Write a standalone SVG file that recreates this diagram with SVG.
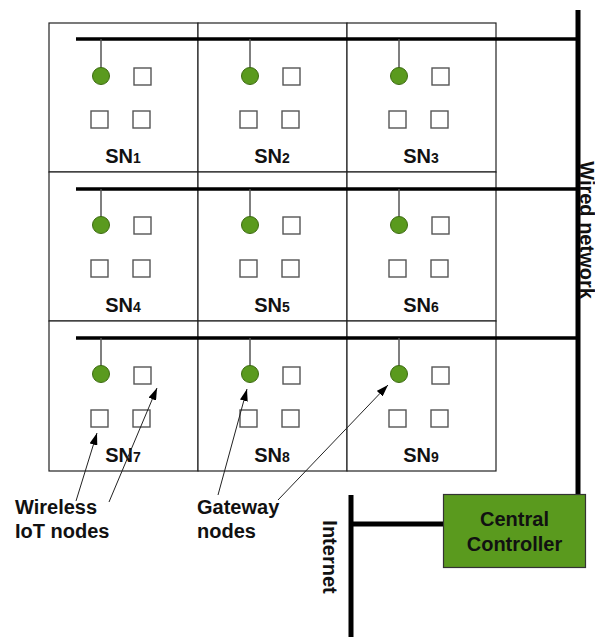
<svg xmlns="http://www.w3.org/2000/svg" width="595" height="637" viewBox="0 0 595 637">
<style>
.cell{fill:#fff;stroke:#222;stroke-width:1.2}
.sq{fill:#fff;stroke:#555;stroke-width:1.4}
.gw{fill:#5a9a1e;stroke:#3d6b12;stroke-width:1}
.stem{stroke:#555;stroke-width:1.5}
.bus{stroke:#000;stroke-width:3.5;fill:none}
.thick{stroke:#000;stroke-width:5;fill:none}
.lbl{font-family:"Liberation Sans",Arial,sans-serif;font-weight:bold;font-size:20px;fill:#111;text-anchor:middle}
.sub{font-size:14px}
.txt{font-family:"Liberation Sans",Arial,sans-serif;font-weight:bold;font-size:20px;fill:#111}
.arr{stroke:#222;stroke-width:1;fill:none;marker-end:url(#ah)}
</style>
<defs>
<marker id="ah" viewBox="0 0 12 8" refX="12" refY="4" markerWidth="12" markerHeight="8" markerUnits="userSpaceOnUse" orient="auto">
<path d="M0,0 L12,4 L0,8 Z" fill="#000"/>
</marker>
</defs>

<g id="SN1"><rect class="cell" x="49" y="23" width="149" height="149"/><rect class="sq" x="134" y="68" width="17" height="17"/><rect class="sq" x="91" y="111" width="17" height="17"/><rect class="sq" x="133" y="111" width="17" height="17"/><text class="lbl" x="123" y="163">SN<tspan class="sub">1</tspan></text></g>
<g id="SN2"><rect class="cell" x="198" y="23" width="149" height="149"/><rect class="sq" x="283" y="68" width="17" height="17"/><rect class="sq" x="240" y="111" width="17" height="17"/><rect class="sq" x="282" y="111" width="17" height="17"/><text class="lbl" x="272" y="163">SN<tspan class="sub">2</tspan></text></g>
<g id="SN3"><rect class="cell" x="347" y="23" width="149" height="149"/><rect class="sq" x="432" y="68" width="17" height="17"/><rect class="sq" x="389" y="111" width="17" height="17"/><rect class="sq" x="431" y="111" width="17" height="17"/><text class="lbl" x="421" y="163">SN<tspan class="sub">3</tspan></text></g>
<g id="SN4"><rect class="cell" x="49" y="172" width="149" height="149"/><rect class="sq" x="134" y="217" width="17" height="17"/><rect class="sq" x="91" y="260" width="17" height="17"/><rect class="sq" x="133" y="260" width="17" height="17"/><text class="lbl" x="123" y="312">SN<tspan class="sub">4</tspan></text></g>
<g id="SN5"><rect class="cell" x="198" y="172" width="149" height="149"/><rect class="sq" x="283" y="217" width="17" height="17"/><rect class="sq" x="240" y="260" width="17" height="17"/><rect class="sq" x="282" y="260" width="17" height="17"/><text class="lbl" x="272" y="312">SN<tspan class="sub">5</tspan></text></g>
<g id="SN6"><rect class="cell" x="347" y="172" width="149" height="149"/><rect class="sq" x="432" y="217" width="17" height="17"/><rect class="sq" x="389" y="260" width="17" height="17"/><rect class="sq" x="431" y="260" width="17" height="17"/><text class="lbl" x="421" y="312">SN<tspan class="sub">6</tspan></text></g>
<g id="SN7"><rect class="cell" x="49" y="321" width="149" height="150"/><rect class="sq" x="134" y="367" width="17" height="17"/><rect class="sq" x="91" y="410" width="17" height="17"/><rect class="sq" x="133" y="410" width="17" height="17"/><text class="lbl" x="123" y="462">SN<tspan class="sub">7</tspan></text></g>
<g id="SN8"><rect class="cell" x="198" y="321" width="149" height="150"/><rect class="sq" x="283" y="367" width="17" height="17"/><rect class="sq" x="240" y="410" width="17" height="17"/><rect class="sq" x="282" y="410" width="17" height="17"/><text class="lbl" x="272" y="462">SN<tspan class="sub">8</tspan></text></g>
<g id="SN9"><rect class="cell" x="347" y="321" width="149" height="150"/><rect class="sq" x="432" y="367" width="17" height="17"/><rect class="sq" x="389" y="410" width="17" height="17"/><rect class="sq" x="431" y="410" width="17" height="17"/><text class="lbl" x="421" y="462">SN<tspan class="sub">9</tspan></text></g>

<g id="connectors">
<line class="bus" x1="76" y1="39" x2="578" y2="39"/>
<line class="bus" x1="76" y1="189" x2="578" y2="189"/>
<line class="bus" x1="76" y1="338" x2="578" y2="338"/>
<line class="thick" x1="578" y1="10" x2="578" y2="495"/>
<line class="thick" x1="351" y1="495" x2="351" y2="637"/>
<line class="thick" x1="351" y1="524" x2="444" y2="524"/>
<line class="stem" x1="101" y1="39" x2="101" y2="68"/>
<line class="stem" x1="250" y1="39" x2="250" y2="68"/>
<line class="stem" x1="399" y1="39" x2="399" y2="68"/>
<line class="stem" x1="101" y1="189" x2="101" y2="217"/>
<line class="stem" x1="250" y1="189" x2="250" y2="217"/>
<line class="stem" x1="399" y1="189" x2="399" y2="217"/>
<line class="stem" x1="101" y1="338" x2="101" y2="366"/>
<line class="stem" x1="250" y1="338" x2="250" y2="366"/>
<line class="stem" x1="399" y1="338" x2="399" y2="366"/>
<line class="arr" x1="76" y1="501" x2="97" y2="433"/>
<line class="arr" x1="109" y1="502" x2="157" y2="388"/>
<line class="arr" x1="218" y1="495" x2="247" y2="389"/>
<line class="arr" x1="278" y1="500" x2="388" y2="385"/>
</g>

<g id="gateways">
<circle class="gw" cx="101" cy="76" r="8.5"/>
<circle class="gw" cx="250" cy="76" r="8.5"/>
<circle class="gw" cx="399" cy="76" r="8.5"/>
<circle class="gw" cx="101" cy="225" r="8.5"/>
<circle class="gw" cx="250" cy="225" r="8.5"/>
<circle class="gw" cx="399" cy="225" r="8.5"/>
<circle class="gw" cx="101" cy="374" r="8.5"/>
<circle class="gw" cx="250" cy="374" r="8.5"/>
<circle class="gw" cx="399" cy="374" r="8.5"/>
</g>

<g id="central-controller">
<rect x="443.5" y="494.5" width="142" height="73" fill="#5a9a1e" stroke="#333" stroke-width="1.2"/>
<text class="lbl" x="514.5" y="526">Central</text>
<text class="lbl" x="514.5" y="551">Controller</text>
</g>

<g id="labels">
<text class="txt" x="15" y="514">Wireless</text>
<text class="txt" x="15" y="538">IoT nodes</text>
<text class="txt" x="197" y="514">Gateway</text>
<text class="txt" x="197" y="538">nodes</text>
<text class="lbl" transform="translate(323,557) rotate(90)">Internet</text>
<text class="lbl" transform="translate(580,230) rotate(90)">Wired network</text>
</g>
</svg>
